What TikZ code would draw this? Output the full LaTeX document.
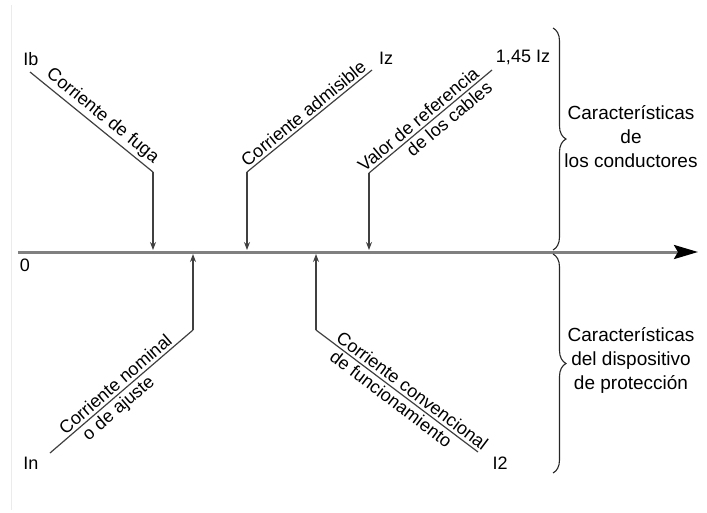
\documentclass[tikz,border=0pt]{standalone}
\usepackage{fontspec}
\setmainfont{Liberation Sans}
\usetikzlibrary{arrows.meta,positioning,calc,decorations.pathreplacing}

\begin{document}
\begin{tikzpicture}[x=1pt,y=-1pt,
		lbl/.style={font=\fontsize{18}{20}\selectfont, inner sep=0pt},
		txt/.style={font=\fontsize{18}{20}\selectfont, sloped, inner sep=2.5pt},
		guide/.style={draw=black!75, line width=1.2pt},
		marker/.style={guide, -{Stealth[length=8pt,width=6pt]}},
		side/.style={font=\fontsize{19}{24}\selectfont, align=center, inner sep=0pt}]
		\useasboundingbox (0,0) rectangle (707,512);
		\draw[black!8] (11,5) -- (11,510);
		\coordinate (o) at (18,252);
		\coordinate (e) at (698,252);
		\draw[gray, line width=3pt, -{Stealth[length=24pt,width=14pt,inset=4pt,color=black]}] (o) -- (e);
		\node[lbl] (zero) at (25,265) {0};
		% top: cable values
		\coordinate (ib-a) at (30,72);   \coordinate (ib-b) at (153,172);
		\coordinate (iz-a) at (372,70);  \coordinate (iz-b) at (247,172);
		\coordinate (iq-a) at (492,70);  \coordinate (iq-b) at (369,173);
		\node[lbl] (ib) at (31,59) {Ib};
		\node[lbl] (iz) at (386,58) {Iz};
		\node[lbl] (iq) at (523,57) {1,45 Iz};
		\draw[guide] (ib-a) -- node[txt, above, pos=0.53] {Corriente de fuga} (ib-b);
		\draw[guide] (iz-b) -- node[txt, above, pos=0.5] {Corriente admisible} (iz-a);
		\draw[guide] (iq-b) -- node[txt, above, pos=0.45] {Valor de referencia}
			node[txt, below, pos=0.6] {de los cables} (iq-a);
		\draw[marker] (ib-b) -- (ib-b |- 0,250);
		\draw[marker] (iz-b) -- (iz-b |- 0,250);
		\draw[marker] (iq-b) -- (iq-b |- 0,250);
		% bottom: protective device
		\coordinate (in-a) at (50,453);  \coordinate (in-b) at (193,330);
		\coordinate (i2-a) at (478,452); \coordinate (i2-b) at (316,330);
		\node[lbl] (in) at (31,463) {In};
		\node[lbl] (i2) at (500,463) {I2};
		\draw[guide] (in-a) -- node[txt, above, pos=0.5] {Corriente nominal}
			node[txt, below, pos=0.43] {o de ajuste} (in-b);
		\draw[guide] (i2-b) -- node[txt, above, pos=0.56] {Corriente convencional}
			node[txt, below, pos=0.5] {de funcionamiento} (i2-a);
		\draw[marker] (in-b) -- (in-b |- 0,254);
		\draw[marker] (i2-b) -- (i2-b |- 0,254);
		% braces
		\draw[black!85, line width=1.1pt, decorate, decoration={brace, amplitude=13pt}] (553,28) -- (553,250);
		\draw[black!85, line width=1.1pt, decorate, decoration={brace, amplitude=13pt}] (553,254) -- (553,473);
		\node[side] (cond) at (631,137) {Características\\de\\los conductores};
		\node[side] (prot) at (631,360) {Características\\del dispositivo\\de protección};
	\end{tikzpicture}
\end{document}
